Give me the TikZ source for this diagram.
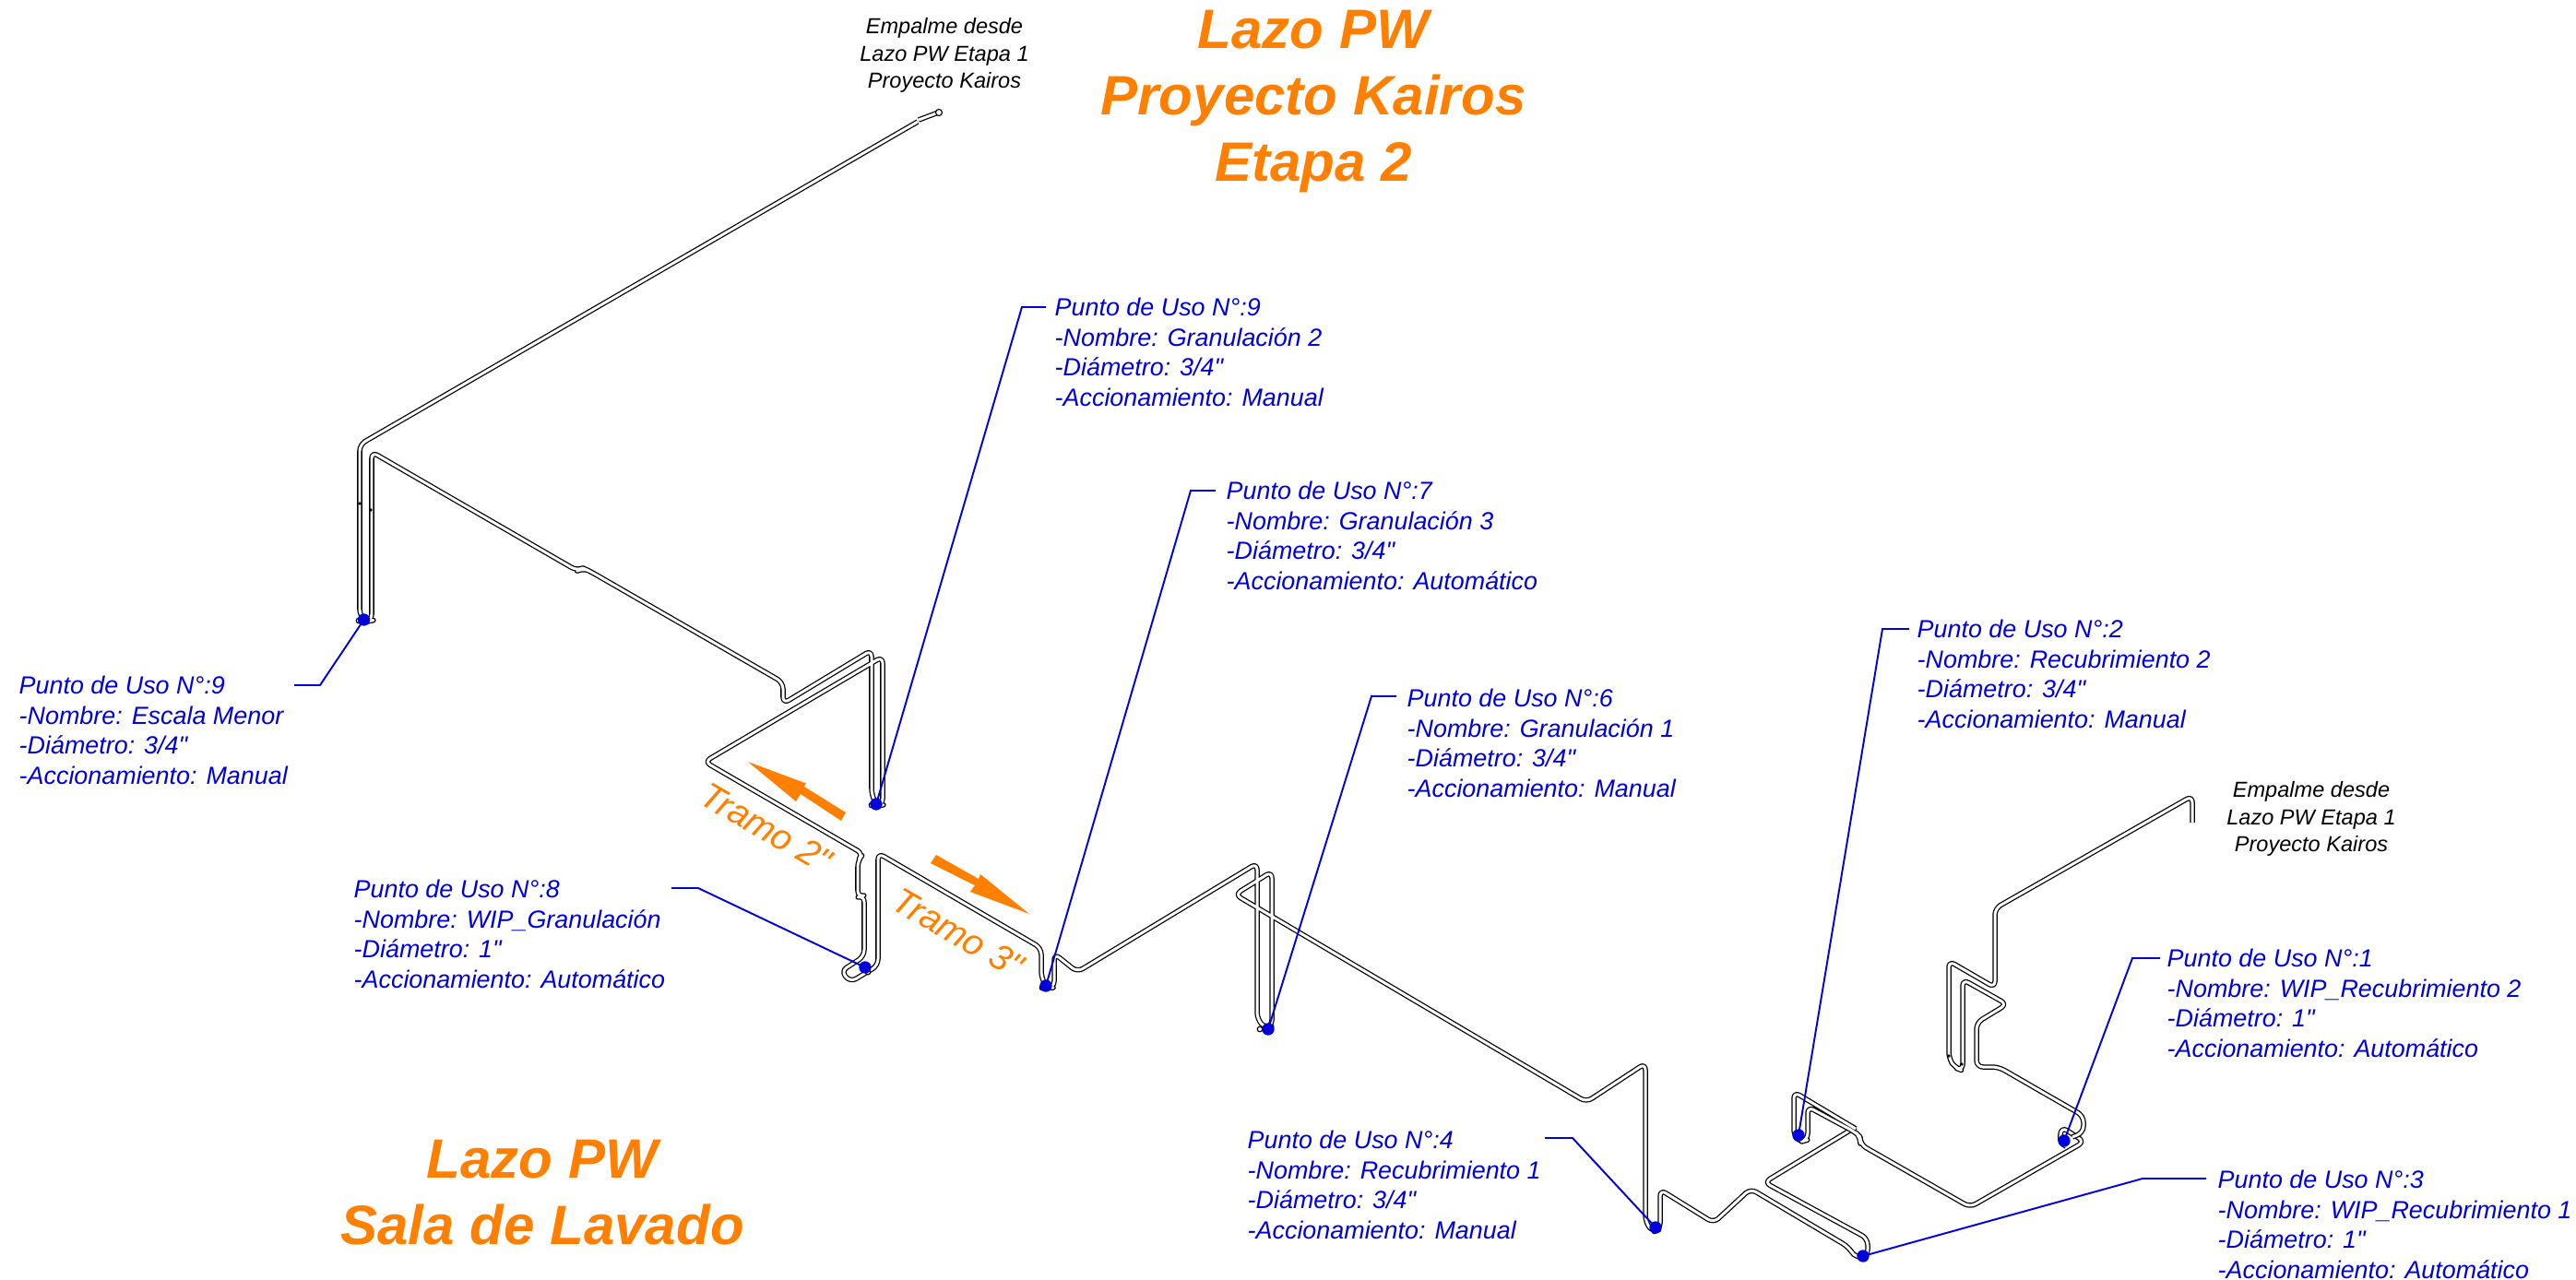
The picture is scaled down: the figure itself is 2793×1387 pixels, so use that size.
\documentclass[tikz,border=0pt]{standalone}
\usepackage{fontspec}
\newfontfamily\pwfont{Liberation Sans}
\definecolor{pwblue}{RGB}{0,0,220}
\definecolor{pworange}{RGB}{255,127,0}
\tikzset{
  pipe/.style={draw=black,double=white,double distance=0.85pt,line width=0.36pt,rounded corners=2pt,line join=round},
  usedot/.style={circle,fill=pwblue,draw=none,minimum size=3.8pt,inner sep=0pt},
  fitting/.style={circle,fill=white,draw=black,line width=0.33pt,minimum size=1.6pt,inner sep=0pt},
  bead/.style={circle,fill=black,draw=none,minimum size=1.1pt,inner sep=0pt},
  callout/.style={anchor=west,inner sep=0pt,align=left,text=pwblue,font=\fontsize{7.65}{9.25}\selectfont\pwfont\itshape},
  leader/.style={draw=pwblue,line width=0.55pt},
  bigtitle/.style={anchor=center,inner sep=0pt,align=center,text=pworange,font=\fontsize{17.1}{20.6}\selectfont\pwfont\bfseries\itshape},
  empalme/.style={anchor=center,inner sep=0pt,align=center,text=black,font=\fontsize{6.7}{8.4}\selectfont\pwfont\itshape},
  tramo/.style={anchor=center,inner sep=0pt,text=pworange,rotate=-30,font=\fontsize{11.1}{13}\selectfont\pwfont\itshape},
  flow/.style={fill=pworange,draw=none}
}
\begin{document}
\begin{tikzpicture}[x=0.01cm,y=-0.01cm]
\useasboundingbox (0,0) rectangle (2793,1387);
% piping
\draw[pipe] (995,132) -- (390,482) -- (390,668) -- (398,674) -- (403,673) -- (403,490) -- (626,619) -- (632,616) -- (639,619) -- (849,740) -- (849,763) -- (945,705) -- (945,862) -- (951,874) -- (957,873) -- (957,712) -- (764,826) -- (936,926) -- (930,933) -- (930,973) -- (937,971) -- (937,1037) -- (912,1053) -- (922,1065) -- (952,1047) -- (952,925) -- (1129,1028) -- (1129,1060) -- (1135,1071) -- (1143,1071) -- (1143,1034) -- (1168,1054) -- (1363,936) -- (1363,1105) -- (1372,1115) -- (1379,1113) -- (1379,945) -- (1339,970) -- (1720,1195) -- (1784,1153) -- (1784,1325) -- (1792,1336) -- (1800,1333) -- (1800,1290) -- (1858,1326) -- (1898,1289) -- (2004,1352) -- (2012,1364) -- (2025,1362) -- (2025,1343) -- (1913,1282) -- (2012,1222);
\draw[pipe] (2012,1224) -- (1945,1184) -- (1945,1232) -- (1953,1238) -- (1960,1236) -- (1960,1200) -- (2012,1228) -- (2017,1233) -- (2017,1241) -- (2136,1309) -- (2260,1238) -- (2235,1222) -- (2233,1240) -- (2240,1243);
\draw[pipe] (2377,892) -- (2377,863) -- (2163,985) -- (2163,1071) -- (2113,1042) -- (2113,1148) -- (2120,1158) -- (2128,1161) -- (2128,1062) -- (2176,1089) -- (2143,1109) -- (2143,1157) -- (2167,1157) -- (2259,1210) -- (2259,1228) -- (2247,1233);
% pipe fittings
\draw[pipe] (996,130) -- (1016,122.5);
\node[fitting,minimum size=2pt] (fe) at (1018,122) {};
\node[fitting] (f9a) at (389,673) {};
\node[fitting] (f9b) at (945,873) {};
\node[fitting] (f8) at (941,1054) {};
\node[fitting] (f7) at (1130,1071) {};
\node[fitting] (f6) at (1366,1116) {};
\node[bead] (b1) at (390,546) {};
\node[bead] (b2) at (402,553) {};
\node[bead] (b3) at (2113,1145) {};
\node[bead] (b4) at (2127,1154) {};
% flow arrows
\fill[flow] (811,826) -- (874,849.5) -- (872,853) -- (917,881) -- (912,890) -- (868,861) -- (863,869) -- cycle;
\fill[flow] (1015,927) -- (1061,953) -- (1063,948) -- (1116,991) -- (1052,967) -- (1057,960) -- (1009,936) -- cycle;
\node[tramo] (t2) at (831,898) {Tramo 2"};
\node[tramo] (t3) at (1039,1012) {Tramo 3"};
% titles
\node[bigtitle] (title1) at (1424,110) {Lazo PW\\Proyecto Kairos\\Etapa 2};
\node[bigtitle] (title2) at (588,1293) {Lazo PW\\Sala de Lavado};
\node[empalme] (emp1) at (1024,60) {Empalme desde\\Lazo PW Etapa 1\\Proyecto Kairos};
\node[empalme] (emp2) at (2506,888) {Empalme desde\\Lazo PW Etapa 1\\Proyecto Kairos};
% use points
\node[usedot] (d9a) at (394.5,672) {};
\node[usedot] (d9b) at (950,872) {};
\node[usedot] (d8) at (938,1049) {};
\node[usedot] (d7) at (1134,1069) {};
\node[usedot] (d6) at (1375,1116) {};
\node[usedot] (d4) at (1795,1331) {};
\node[usedot] (d2) at (1950,1231) {};
\node[usedot] (d1) at (2238,1237) {};
\node[usedot] (d3) at (2020,1362) {};
% callouts
\node[callout] (c9a) at (20,792) {Punto de Uso N°:9\\-Nombre: Escala Menor\\-Diámetro: 3/4"\\-Accionamiento: Manual};
\node[callout] (c9b) at (1143,382) {Punto de Uso N°:9\\-Nombre: Granulación 2\\-Diámetro: 3/4"\\-Accionamiento: Manual};
\node[callout] (c7) at (1329,581) {Punto de Uso N°:7\\-Nombre: Granulación 3\\-Diámetro: 3/4"\\-Accionamiento: Automático};
\node[callout] (c6) at (1525,806) {Punto de Uso N°:6\\-Nombre: Granulación 1\\-Diámetro: 3/4"\\-Accionamiento: Manual};
\node[callout] (c2) at (2078,731) {Punto de Uso N°:2\\-Nombre: Recubrimiento 2\\-Diámetro: 3/4"\\-Accionamiento: Manual};
\node[callout] (c1) at (2349,1088) {Punto de Uso N°:1\\-Nombre: WIP\_Recubrimiento 2\\-Diámetro: 1"\\-Accionamiento: Automático};
\node[callout] (c3) at (2404,1328) {Punto de Uso N°:3\\-Nombre: WIP\_Recubrimiento 1\\-Diámetro: 1"\\-Accionamiento: Automático};
\node[callout] (c4) at (1352,1285) {Punto de Uso N°:4\\-Nombre: Recubrimiento 1\\-Diámetro: 3/4"\\-Accionamiento: Manual};
\node[callout] (c8) at (383,1013) {Punto de Uso N°:8\\-Nombre: WIP\_Granulación\\-Diámetro: 1"\\-Accionamiento: Automático};
% leaders
\coordinate (l9aa) at (319,743); \coordinate (l9ab) at (347,743);
\coordinate (l9ba) at (1134,333); \coordinate (l9bb) at (1108,333);
\coordinate (l7a) at (1318,532); \coordinate (l7b) at (1291,532);
\coordinate (l6a) at (1514,755); \coordinate (l6b) at (1487,755);
\coordinate (l2a) at (2070,682); \coordinate (l2b) at (2041,682);
\coordinate (l1a) at (2342,1039); \coordinate (l1b) at (2312,1039);
\coordinate (l3a) at (2392,1278); \coordinate (l3b) at (2323,1278);
\coordinate (l4a) at (1675,1234); \coordinate (l4b) at (1705,1234);
\coordinate (l8a) at (728,963); \coordinate (l8b) at (757,963);
\draw[leader] (l9aa) -- (l9ab) -- (d9a.center);
\draw[leader] (l9ba) -- (l9bb) -- (d9b.center);
\draw[leader] (l7a) -- (l7b) -- (d7.center);
\draw[leader] (l6a) -- (l6b) -- (d6.center);
\draw[leader] (l2a) -- (l2b) -- (d2.center);
\draw[leader] (l1a) -- (l1b) -- (d1.center);
\draw[leader] (l3a) -- (l3b) -- (d3.center);
\draw[leader] (l4a) -- (l4b) -- (d4.center);
\draw[leader] (l8a) -- (l8b) -- (d8.center);
\end{tikzpicture}
\end{document}
